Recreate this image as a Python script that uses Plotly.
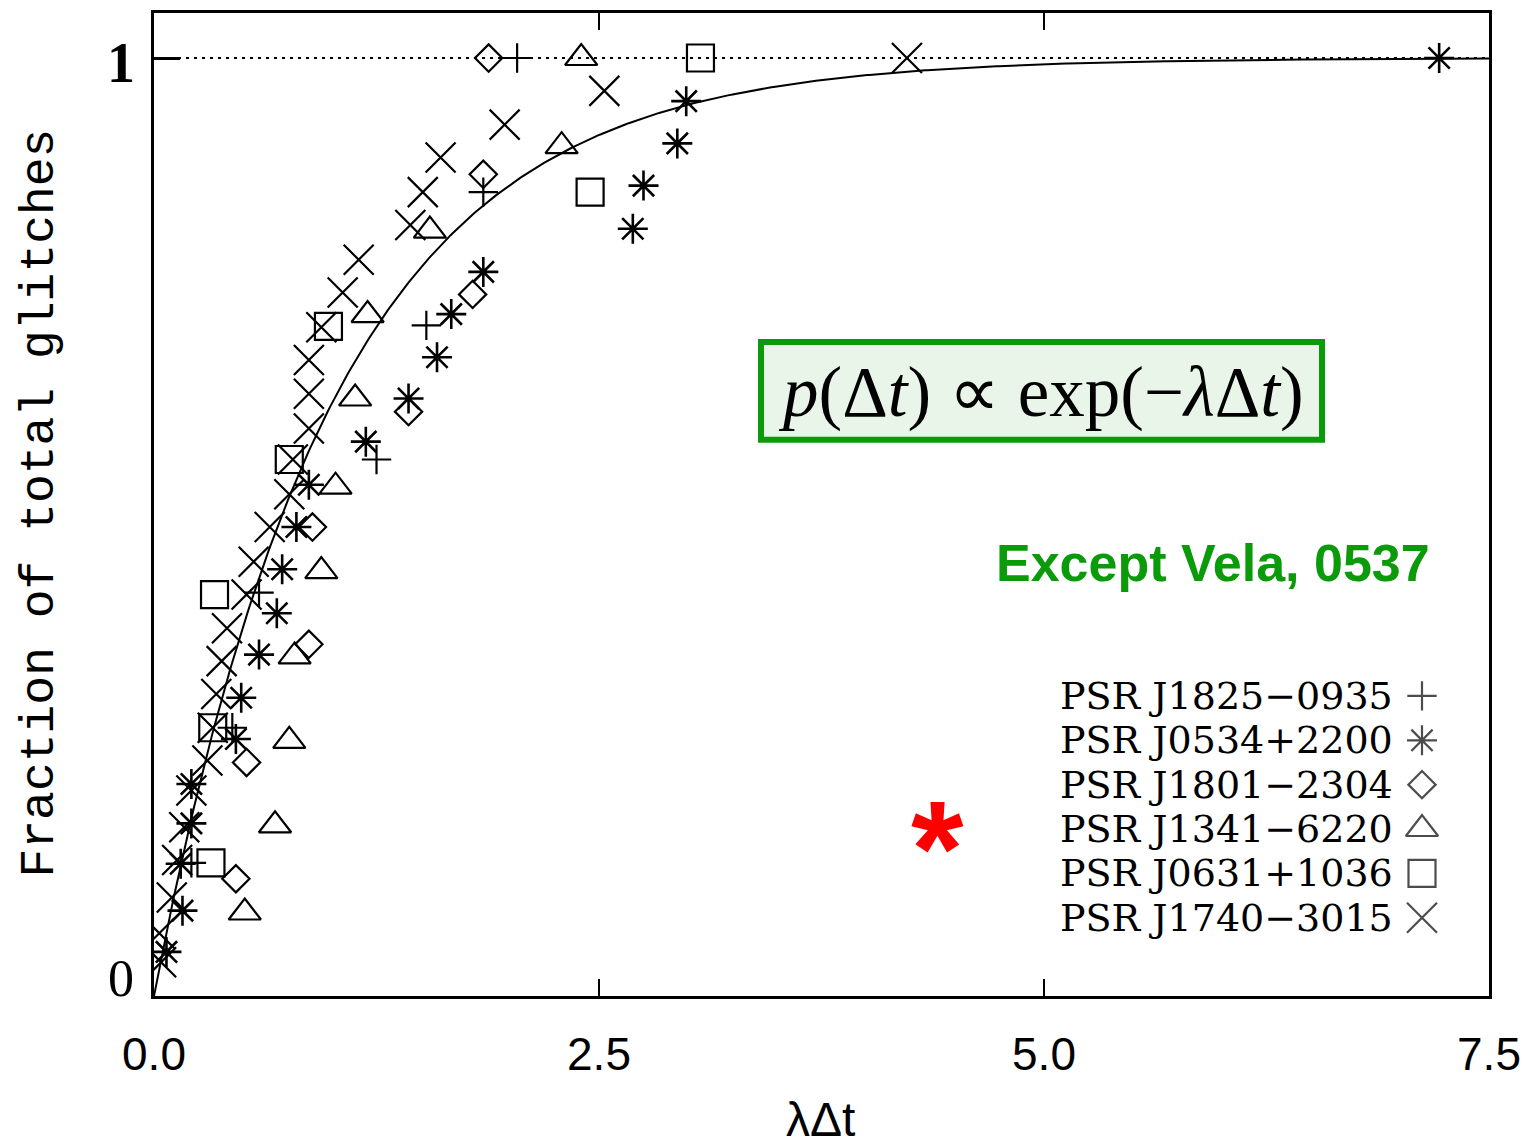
import numpy as np
import plotly.graph_objects as go

# ---- glitch data: normalised waiting time (lambda*dt) vs cumulative fraction ----
j1825_x = [0.21, 0.44, 0.59, 1.25, 1.53, 1.85, 2.04]
j1825_y = [0.142, 0.286, 0.430, 0.572, 0.715, 0.857, 1.0]

j0534_x = [0.07, 0.16, 0.15, 0.21, 0.21, 0.46, 0.49, 0.59, 0.69, 0.72, 0.80,
           0.87, 1.19, 1.43, 1.59, 1.67, 1.85, 2.69, 2.75, 2.94, 2.99, 7.22]
j0534_y = [0.047, 0.091, 0.141, 0.184, 0.226, 0.274, 0.318, 0.364, 0.408, 0.455, 0.500,
           0.545, 0.591, 0.637, 0.681, 0.727, 0.772, 0.818, 0.864, 0.909, 0.954, 1.0]

j1801_x = [0.46, 0.52, 0.87, 0.89, 1.43, 1.79, 1.85, 1.88]
j1801_y = [0.125, 0.249, 0.375, 0.500, 0.623, 0.748, 0.876, 1.0]

j1341_x = [0.51, 0.68, 0.76, 0.79, 0.94, 1.02, 1.13, 1.20, 1.55, 2.29, 2.40]
j1341_y = [0.089, 0.182, 0.272, 0.362, 0.453, 0.543, 0.637, 0.726, 0.816, 0.906, 1.0]

j0631_x = [0.32, 0.33, 0.34, 0.76, 0.98, 2.45, 3.07]
j0631_y = [0.142, 0.286, 0.428, 0.572, 0.714, 0.857, 1.0]

j1740_x = [0.04, 0.03, 0.10, 0.13, 0.17, 0.21, 0.30, 0.33, 0.35, 0.38, 0.41, 0.52, 0.56, 0.65,
           0.76, 0.78, 0.87, 0.87, 0.87, 0.94, 1.06, 1.15, 1.44, 1.51, 1.61, 1.97, 2.53, 4.23]
j1740_y = [0.036, 0.067, 0.105, 0.145, 0.180, 0.219, 0.251, 0.286, 0.322, 0.357, 0.392, 0.428,
           0.463, 0.500, 0.535, 0.572, 0.605, 0.642, 0.678, 0.713, 0.750, 0.785, 0.822, 0.857,
           0.894, 0.929, 0.965, 1.0]

pulsar_names = ["PSR J1825\u22120935", "PSR J0534+2200", "PSR J1801\u22122304",
                "PSR J1341\u22126220", "PSR J0631+1036", "PSR J1740\u22123015"]

x_ticks = [0.0, 2.5, 5.0, 7.5]
x_tick_text = ["0.0", "2.5", "5.0", "7.5"]

# ---- styling: (x, y, symbol, size) per pulsar ----
series = [
    (j1825_x, j1825_y, "cross-thin-open", 21),
    (j0534_x, j0534_y, "asterisk-open", 25),
    (j1801_x, j1801_y, "diamond-open", 21),
    (j1341_x, j1341_y, "triangle-up-open", 28),
    (j0631_x, j0631_y, "square-open", 27),
    (j1740_x, j1740_y, "x-thin-open", 30),
]

W, H = 1536, 1145
L, R, T, B = 154, 1489, 10, 996   # plot-area edges in pixels
GREEN = "#0a9a0a"


def paper(px, py):
    return (px - L) / (R - L), (B - py) / (B - T)


fig = go.Figure()

# exponential model: cumulative fraction 1 - exp(-lambda*dt)
xm = np.linspace(0, 7.5, 600)
fig.add_trace(go.Scatter(x=xm, y=1 - np.exp(-xm), mode="lines",
                         line=dict(color="black", width=2), showlegend=False, hoverinfo="skip"))

# reference level at fraction = 1
fig.add_trace(go.Scatter(x=[0, 7.5], y=[1, 1], mode="lines",
                         line=dict(color="black", width=2, dash="3px,5px"),
                         showlegend=False, hoverinfo="skip"))

for xs, ys, sym, size in series:
    lw = 2.6 if sym.startswith("asterisk") else 2.2
    fig.add_trace(go.Scatter(x=xs, y=ys, mode="markers", showlegend=False,
                             marker=dict(symbol=sym, size=size, color="black",
                                         line=dict(color="black", width=lw))))

# key symbols to the right of the pulsar names
row0, row_step = 695, 44.5
key_x, key_y = [], []
for i in range(len(pulsar_names)):
    kx, ky = paper(1422, row0 + i * row_step)
    key_x.append(kx)
    key_y.append(ky)
fig.add_trace(go.Scatter(x=key_x, y=key_y, xaxis="x2", yaxis="y2", mode="markers",
                         showlegend=False, cliponaxis=False,
                         marker=dict(symbol=[s[2] for s in series], size=[s[3] for s in series],
                                     color="black", line=dict(color="black", width=2.2))))

annotations = []
for i, name in enumerate(pulsar_names):
    ax, ay = paper(1394, row0 + i * row_step)
    annotations.append(dict(x=ax, y=ay, xref="paper", yref="paper", text=name, showarrow=False,
                            xanchor="right", yanchor="middle", borderpad=0,
                            font=dict(family="DejaVu Serif", size=38, color="black")))

# red marker next to J1341-6220
ax, ay = paper(937, 848)
annotations.append(dict(x=ax, y=ay, xref="paper", yref="paper", text="<b>*</b>", showarrow=False,
                        xanchor="center", yanchor="middle",
                        font=dict(family="Liberation Sans", size=135, color="#ff0000")))

# model formula box
bx0, by0 = paper(761, 438)
bx1, by1 = paper(1322, 340)
fig.add_shape(type="rect", xref="paper", yref="paper", x0=bx0, y0=by0, x1=bx1, y1=by1,
              line=dict(color=GREEN, width=6), fillcolor="#e9f5e9", layer="above")
ax, ay = paper(1041, 391)
annotations.append(dict(x=ax, y=ay, xref="paper", yref="paper",
                        text="<i>p</i>(\u0394<i>t</i>) \u221d exp(\u2212<i>\u03bb</i>\u0394<i>t</i>)",
                        showarrow=False, xanchor="center", yanchor="middle",
                        font=dict(family="Liberation Serif", size=71, color="black")))

ax, ay = paper(1213, 562)
annotations.append(dict(x=ax, y=ay, xref="paper", yref="paper", text="<b>Except Vela, 0537</b>",
                        showarrow=False, xanchor="center", yanchor="middle",
                        font=dict(family="Liberation Sans", size=52, color=GREEN)))

# y tick labels
ax, ay = paper(121, 60)
annotations.append(dict(x=ax, y=ay, xref="paper", yref="paper", text="<b>1</b>", showarrow=False,
                        xanchor="center", yanchor="middle",
                        font=dict(family="Liberation Serif", size=56, color="black")))
ax, ay = paper(121, 978)
annotations.append(dict(x=ax, y=ay, xref="paper", yref="paper", text="0", showarrow=False,
                        xanchor="center", yanchor="middle",
                        font=dict(family="Liberation Serif", size=52, color="black")))

# axis titles
ax, ay = paper(40, 502)
annotations.append(dict(x=ax, y=ay, xref="paper", yref="paper", text="Fraction of total glitches",
                        showarrow=False, textangle=-90, xanchor="center", yanchor="middle",
                        font=dict(family="Liberation Mono", size=48, color="black")))
ax, ay = paper(820, 1120)
annotations.append(dict(x=ax, y=ay, xref="paper", yref="paper", text="\u03bb\u0394t",
                        showarrow=False, xanchor="center", yanchor="middle",
                        font=dict(family="Liberation Sans", size=48, color="black")))

fig.update_layout(
    width=W, height=H,
    margin=dict(l=L, r=W - R, t=T, b=H - B, pad=0),
    paper_bgcolor="white", plot_bgcolor="white",
    showlegend=False,
    annotations=annotations,
    xaxis=dict(range=[0, 7.5], tickvals=x_ticks, ticktext=x_tick_text,
               ticks="inside", ticklen=17, tickwidth=2, tickcolor="black",
               showline=True, linecolor="black", linewidth=2.5, mirror="ticks",
               showgrid=False, zeroline=False, ticklabelstandoff=16,
               tickfont=dict(family="Liberation Sans", size=46, color="black")),
    yaxis=dict(range=[0, 1.048], tickvals=[1], ticks="inside", ticklen=26, tickwidth=2.5,
               tickcolor="black", showticklabels=False,
               showline=True, linecolor="black", linewidth=2.5, mirror=True,
               showgrid=False, zeroline=False),
    xaxis2=dict(overlaying="x", anchor="y2", range=[0, 1], visible=False),
    yaxis2=dict(overlaying="y", anchor="x2", range=[0, 1], visible=False),
)

fig.write_html("out.html")
